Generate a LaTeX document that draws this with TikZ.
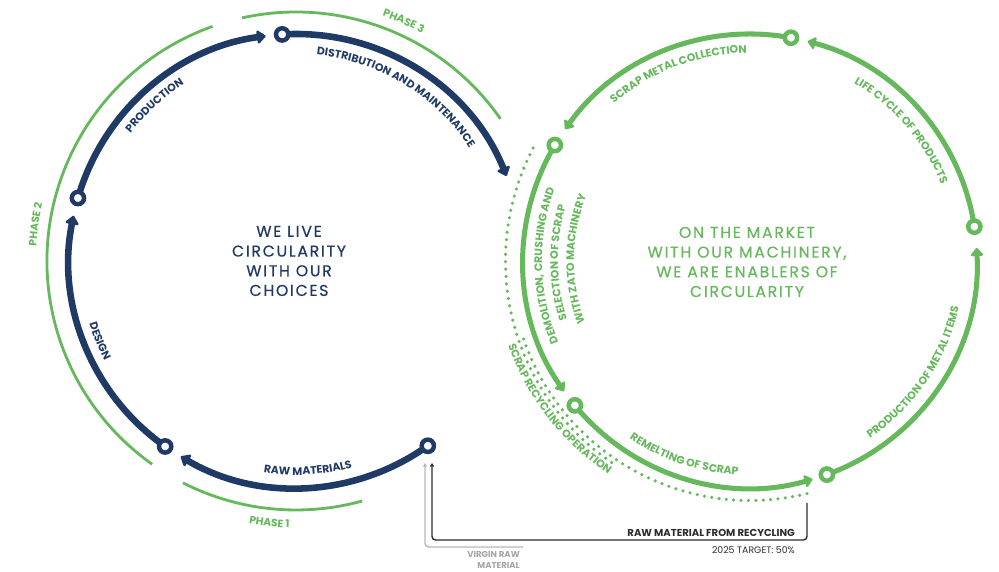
\documentclass[tikz,border=0pt]{standalone}
\usepackage{fontspec}
\setmainfont{Poppins}
\newfontfamily\lblfont{Poppins}
\newfontfamily\ctrfont[LetterSpace=11,FakeBold=0.5]{Poppins}
\usetikzlibrary{calc,arrows.meta,decorations.text}
\definecolor{navy}{RGB}{32,58,102}
\definecolor{leaf}{RGB}{102,184,92}
\definecolor{ink}{RGB}{45,45,45}
\definecolor{fog}{RGB}{185,185,185}
\definecolor{fogtext}{RGB}{165,165,165}

% text formats used along the arcs
\newcommand\navyfmt{\lblfont\bfseries\fontsize{9.3}{11}\selectfont\color{navy}}
\newcommand\leaffmt{\lblfont\bfseries\fontsize{9.3}{11}\selectfont\color{leaf}}
\newcommand\phasefmt{\lblfont\bfseries\fontsize{9.1}{11}\selectfont\color{leaf}}

% #1 centre, #2 baseline radius (px), #3 start angle, #4 end angle, #5 format, #6 text
\newcommand\arclabel[6]{%
  \path[decorate,decoration={text along path,text align=center,text={|#5|#6}}]
    ($(#1)+(#3:#2)$) arc[start angle=#3,end angle=#4,radius={#2*0.03cm}];}

\begin{document}
\begin{tikzpicture}[x=0.03cm,y=0.03cm,
  darkarc/.style={navy,line width=5.6pt,-{Triangle[length=8pt,width=13pt,round]}},
  greenarc/.style={leaf,line width=4.3pt,-{Triangle[length=7.5pt,width=12pt,round]}},
  phasearc/.style={leaf,line width=2.4pt},
  dotarc/.style={leaf,line width=3pt,line cap=round,dash pattern=on 0pt off 6.3pt},
  navyhub/.style={circle,draw=navy,fill=white,line width=3.8pt,minimum size=10.5pt,inner sep=0pt},
  leafhub/.style={circle,draw=leaf,fill=white,line width=3.8pt,minimum size=10.5pt,inner sep=0pt},
  feed/.style={ink,line width=1.2pt,rounded corners=3pt,-{Triangle[length=3pt,width=3.4pt]}},
  virgin/.style={fog,line width=1.2pt,rounded corners=3pt,-{Triangle[length=3pt,width=3.4pt]}}]
\useasboundingbox (0,0) rectangle (999,572);

% circle centres
\coordinate (C1) at (296,311);
\coordinate (C2) at (750,311);

% stations on the left loop
\coordinate (Ltop)  at ($(C1)+(93.5:227)$);
\coordinate (Lleft) at ($(C1)+(163.9:227)$);
\coordinate (Lbl)   at ($(C1)+(234.8:227)$);
\coordinate (Lbr)   at ($(C1)+(305.5:227)$);
% stations on the right loop
\coordinate (Rtop)   at ($(C2)+(79.6:227)$);
\coordinate (Rleft)  at ($(C2)+(149.3:227)$);
\coordinate (Rbl)    at ($(C2)+(219.5:227)$);
\coordinate (Rbot)   at ($(C2)+(289.8:227)$);
\coordinate (Rright) at ($(C2)+(8.7:227)$);

% phase arcs
\draw[phasearc] ($(C1)+(243:249)$) arc[start angle=243,end angle=285.4,radius=7.47cm];
\draw[phasearc] ($(C1)+(109.6:249)$) arc[start angle=109.6,end angle=234.7,radius=7.47cm];
\draw[phasearc] ($(C1)+(102.5:249)$) arc[start angle=102.5,end angle=34.8,radius=7.47cm];

% left loop
\draw[darkarc] (Lbr)   arc[start angle=305.5,end angle=239.5,radius=6.81cm];
\draw[darkarc] (Lbl)   arc[start angle=234.8,end angle=168.5,radius=6.81cm];
\draw[darkarc] (Lleft) arc[start angle=163.9,end angle=97.7,radius=6.81cm];
\draw[darkarc] (Ltop)  arc[start angle=93.5,end angle=22,radius=6.81cm];

% right loop
\draw[greenarc] (Rtop)   arc[start angle=79.6,end angle=144.5,radius=6.81cm];
\draw[greenarc] (Rleft)  arc[start angle=149.3,end angle=215,radius=6.81cm];
\draw[greenarc] (Rbl)    arc[start angle=219.5,end angle=286,radius=6.81cm];
\draw[greenarc] (Rbot)   arc[start angle=289.8,end angle=363.3,radius=6.81cm];
\draw[greenarc] (Rright) arc[start angle=8.7,end angle=75.3,radius=6.81cm];

% scrap recycling operation: two overlapping dotted spans
\coordinate (dotS) at ($(C2)+(152.5:244.5)$);
\coordinate (dotM) at ($(C2)+(199:239.5)$);
\coordinate (dotE) at ($(C2)+(284:239.5)$);
\draw[dotarc] (dotS) arc[start angle=152.5,end angle=236,radius={244.5*0.03cm}];
\draw[dotarc] (dotM) arc[start angle=199,end angle=284,radius={239.5*0.03cm}];

% station markers
\foreach \n in {Ltop,Lleft,Lbl,Lbr} \node[navyhub] (hub-\n) at (\n) {};
\foreach \n in {Rtop,Rleft,Rbl,Rbot,Rright} \node[leafhub] (hub-\n) at (\n) {};

% feeds into raw materials
\coordinate (feedA) at (807,69);
\coordinate (feedTip) at (432,109);
\coordinate (virginA) at (523,25);
\coordinate (virginTip) at (425,109);
\draw[virgin] (virginA) -- (virginA -| virginTip) -- (virginTip);
\draw[feed] (feedA) -- (807,32) -- (feedTip |- 0,32) -- (feedTip);

\node[anchor=base east,font=\lblfont\bfseries\fontsize{8.6}{10}\selectfont,text=ink,inner sep=0pt]
  (rec) at (795,35) {RAW MATERIAL FROM RECYCLING};
\node[anchor=base east,font=\fontsize{8}{9}\selectfont,text=ink,inner sep=0pt]
  (target) at (795,18) {2025 TARGET: 50\%};
\node[anchor=base east,font=\lblfont\bfseries\fontsize{7.3}{9}\selectfont,text=fogtext,inner sep=0pt]
  (vrm) at (520,14) {VIRGIN RAW};
\node[anchor=base east,font=\lblfont\bfseries\fontsize{7.3}{9}\selectfont,text=fogtext,inner sep=0pt]
  (vrm2) at (520,3) {MATERIAL};

% centre statements
\node[align=center,text=navy,font=\ctrfont\fontsize{13.4}{16.8}\selectfont] (live) at (289,311)
  {WE LIVE\\CIRCULARITY\\WITH OUR\\CHOICES};
\node[align=center,text=leaf,font=\ctrfont\fontsize{13.4}{16.8}\selectfont] (market) at (747,310)
  {ON THE MARKET\\WITH OUR MACHINERY,\\WE ARE ENABLERS OF\\CIRCULARITY};

% phase labels
\arclabel{C1}{260}{105.8}{25.8}{\phasefmt}{PHASE 3}
\arclabel{C1}{260}{212}{132}{\phasefmt}{PHASE 2}
\arclabel{C1}{267}{224.2}{304.2}{\phasefmt}{PHASE 1}

% left loop labels
\arclabel{C1}{209}{172.3}{92.3}{\navyfmt}{PRODUCTION}
\arclabel{C1}{207}{118.7}{-1.3}{\navyfmt}{DISTRIBUTION AND MAINTENANCE}
\arclabel{C1}{216}{162.2}{242.2}{\navyfmt}{DESIGN}
\arclabel{C1}{214}{233.3}{313.3}{\navyfmt}{RAW MATERIALS}

% right loop labels
\arclabel{C2}{208}{150.9}{70.9}{\leaffmt}{SCRAP METAL COLLECTION}
\arclabel{C2}{206}{80.8}{0.8}{\leaffmt}{LIFE CYCLE OF PRODUCTS}
\arclabel{C2}{214}{285.8}{365.8}{\leaffmt}{PRODUCTION OF METAL ITEMS}
\arclabel{C2}{214.5}{211.3}{291.3}{\leaffmt}{REMELTING OF SCRAP}
\arclabel{C2}{256}{177.8}{257.8}{\leaffmt}{SCRAP RECYCLING OPERATION}
\arclabel{C2}{208}{221.4}{141.4}{\leaffmt}{DEMOLITION, CRUSHING AND}
\arclabel{C2}{192}{220.6}{140.6}{\leaffmt}{SELECTION OF SCRAP}
\arclabel{C2}{176}{219.4}{139.4}{\leaffmt}{WITH ZATO MACHINERY}
\end{tikzpicture}
\end{document}
